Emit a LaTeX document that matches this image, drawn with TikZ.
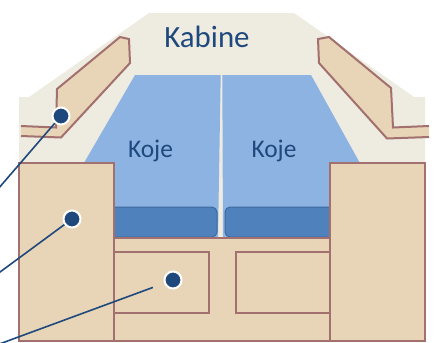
\documentclass[tikz,border=0pt]{standalone}
\usepackage{fontspec}
\setmainfont{Carlito}
\definecolor{cabinbg}{HTML}{EEEBE0}
\definecolor{wood}{HTML}{E8D5B7}
\definecolor{woodline}{HTML}{A2706E}
\definecolor{bedblue}{HTML}{8DB3E2}
\definecolor{cushion}{HTML}{4F81BD}
\definecolor{cushionline}{HTML}{3C6A9F}
\definecolor{navy}{HTML}{1F497D}
\tikzset{
  woodpart/.style={fill=wood, draw=woodline, line width=2bp, line join=miter},
  bed/.style={fill=bedblue},
  pad/.style={fill=cushion, draw=cushionline, line width=1bp, rounded corners=5bp},
  label/.style={text=navy, anchor=base, inner sep=0pt},
  dot/.style={circle, fill=navy, draw=white, line width=2bp, minimum size=17bp, inner sep=0pt},
  pointer/.style={draw=navy, line width=1.6bp},
}
\begin{document}
\begin{tikzpicture}[x=1bp, y=-1bp]
\useasboundingbox (0,0) rectangle (434,342);
% cabin floor outline
\fill[cabinbg] (19,342) -- (19,97) -- (29,97) -- (149,13) -- (294,13) -- (414,97) -- (425,97) -- (425,342) -- cycle;
% two berths with a narrow gap between them
\fill[bed] (135,75) -- (220.7,75) -- (218,237) -- (41,237) -- cycle;
\fill[bed] (222.3,75) -- (311,75) -- (401,237) -- (223,237) -- cycle;
% mattress front cushions
\path[pad] (100,207) rectangle (217,237);
\path[pad] (225,207) rectangle (345,237);
% base with drawers
\path[woodpart] (113,238) rectangle (330,341);
\path[woodpart] (114,252) rectangle (209,313);
\path[woodpart] (236,252) rectangle (330,313);
% side cabinets
\path[woodpart] (19,163) rectangle (114,341);
\path[woodpart] (330,163) rectangle (425,341);
% slanted wall shelves
\fill[wood] (21,126) -- (56,127.5) -- (57,89) -- (120,37) -- (129,39) -- (130,63) -- (61,137.5) -- (21,136) -- cycle;
\draw[woodpart, fill=none] (21,126) -- (56,127.5) -- (57,89) -- (120,37) -- (129,39) -- (130,63) -- (61,137.5) -- (21,136);
\fill[wood] (429,126) -- (393,127.5) -- (391,88) -- (329,37) -- (318,39) -- (319,63) -- (387,138.5) -- (429,137) -- cycle;
\draw[woodpart, fill=none] (429,126) -- (393,127.5) -- (391,88) -- (329,37) -- (318,39) -- (319,63) -- (387,138.5) -- (429,137);
% labels
\node[label, font=\fontsize{31}{31}\selectfont] (kabine) at (207,47) {Kabine};
\node[label, font=\fontsize{25.5}{25.5}\selectfont] (koje1) at (150.5,157) {Koje};
\node[label, font=\fontsize{25.5}{25.5}\selectfont] (koje2) at (274,157) {Koje};
% callout markers and leader lines
\node[dot] (d1) at (61,116) {};
\node[dot] (d2) at (72,219) {};
\node[dot] (d3) at (173,280) {};
\coordinate (e1) at (-2,189);
\coordinate (e2) at (-2,273.5);
\coordinate (e3) at (-2,344.5);
\draw[pointer] (d1) -- (e1);
\draw[pointer] (d2) -- (e2);
\draw[pointer, shorten <=12bp] (d3) -- (e3);
\end{tikzpicture}
\end{document}
